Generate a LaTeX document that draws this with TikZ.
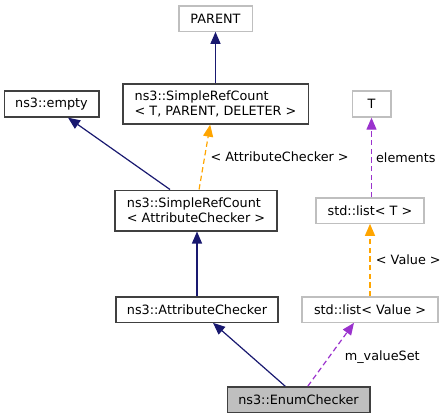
\documentclass[tikz,border=0pt]{standalone}
\usepackage{fontspec}
\setmainfont{DejaVu Sans}
\usepackage{tikz}
\usetikzlibrary{arrows.meta}
\usetikzlibrary{positioning}
\definecolor{mnavy}{rgb}{0.098, 0.098, 0.439}
\definecolor{morange}{rgb}{1.0, 0.647, 0.0}
\definecolor{mpurple}{rgb}{0.604, 0.196, 0.804}
\definecolor{mgrey}{rgb}{0.75, 0.75, 0.75}
\definecolor{mdark}{rgb}{0.25, 0.25, 0.25}

\tikzset{
  cls/.style={draw=mdark, line width=1pt, inner sep=0pt, font=\fontsize{9.6}{11.5}\selectfont, align=left},
  ext/.style={cls, draw=mgrey},
  inherit/.style={draw=mnavy, line width=0.9pt, -{Triangle[length=9pt, width=7.5pt]}},
  templ/.style={draw=morange, line width=0.9pt, dash pattern=on 4pt off 2.5pt, -{Triangle[length=9pt, width=7.5pt]}},
  usage/.style={draw=mpurple, line width=0.9pt, dash pattern=on 4pt off 2.5pt, -{Triangle[length=9pt, width=7.5pt]}},
  lbl/.style={anchor=west, inner sep=0pt, font=\fontsize{9.6}{11.5}\selectfont}
}

\begin{document}
\begin{tikzpicture}[x=0.75pt, y=-0.75pt]
    \useasboundingbox (0, 0) rectangle (447, 419);

    % boxes
    \node [ext, minimum width=55pt, minimum height=19pt] (parent) at (215.5, 18.5) {PARENT};
    \node [cls, minimum width=139pt, minimum height=30pt] (srcT) at (215.5, 104) {ns3::SimpleRefCount\\< T, PARENT, DELETER >};
    \node [cls, minimum width=71pt, minimum height=19.5pt] (empty) at (51.5, 104) {ns3::empty};
    \node [ext, minimum width=29pt, minimum height=19.5pt] (T) at (371.5, 104) {T};
    \node [cls, minimum width=121.5pt, minimum height=30.5pt] (srcAC) at (196, 210.5) {ns3::SimpleRefCount\\< AttributeChecker >};
    \node [ext, minimum width=81pt, minimum height=19pt] (listT) at (370, 210.5) {std::list< T >};
    \node [cls, minimum width=121.5pt, minimum height=19pt] (checker) at (197, 309.5) {ns3::AttributeChecker};
    \node [ext, minimum width=102pt, minimum height=19pt] (listV) at (370, 309.5) {std::list< Value >};
    \node [cls, fill=mgrey, minimum width=107pt, minimum height=19pt] (enum) at (298.5, 399.5) {ns3::EnumChecker};

    % inheritance
    \draw [inherit] (srcT.north) -- (parent.south);
    \draw [inherit] ([xshift=-19.5pt]srcAC.north) -- ([xshift=12.4pt]empty.south);
    \draw [inherit] (checker.north) -- (srcAC.south -| checker.north);
    \draw [inherit] ([xshift=-10pt]enum.north) -- ([xshift=12pt]checker.south);

    % templates and members
    \draw [templ] ([xshift=2.3pt]srcAC.north) -- ([xshift=-4pt]srcT.south) node [lbl, pos=0.5, xshift=4pt] {< AttributeChecker >};
    \draw [templ] (listV.north) -- (listT.south) node [lbl, pos=0.5, xshift=4pt] {< Value >};
    \draw [usage] (listT.north -| T.south) -- (T.south) node [lbl, pos=0.5, xshift=3pt] {elements};
    \draw [usage] ([xshift=7pt]enum.north) -- ([xshift=-12pt]listV.south) node [lbl, pos=0.5, xshift=10pt, yshift=-2pt] {m\_valueSet};
  \end{tikzpicture}
\end{document}
